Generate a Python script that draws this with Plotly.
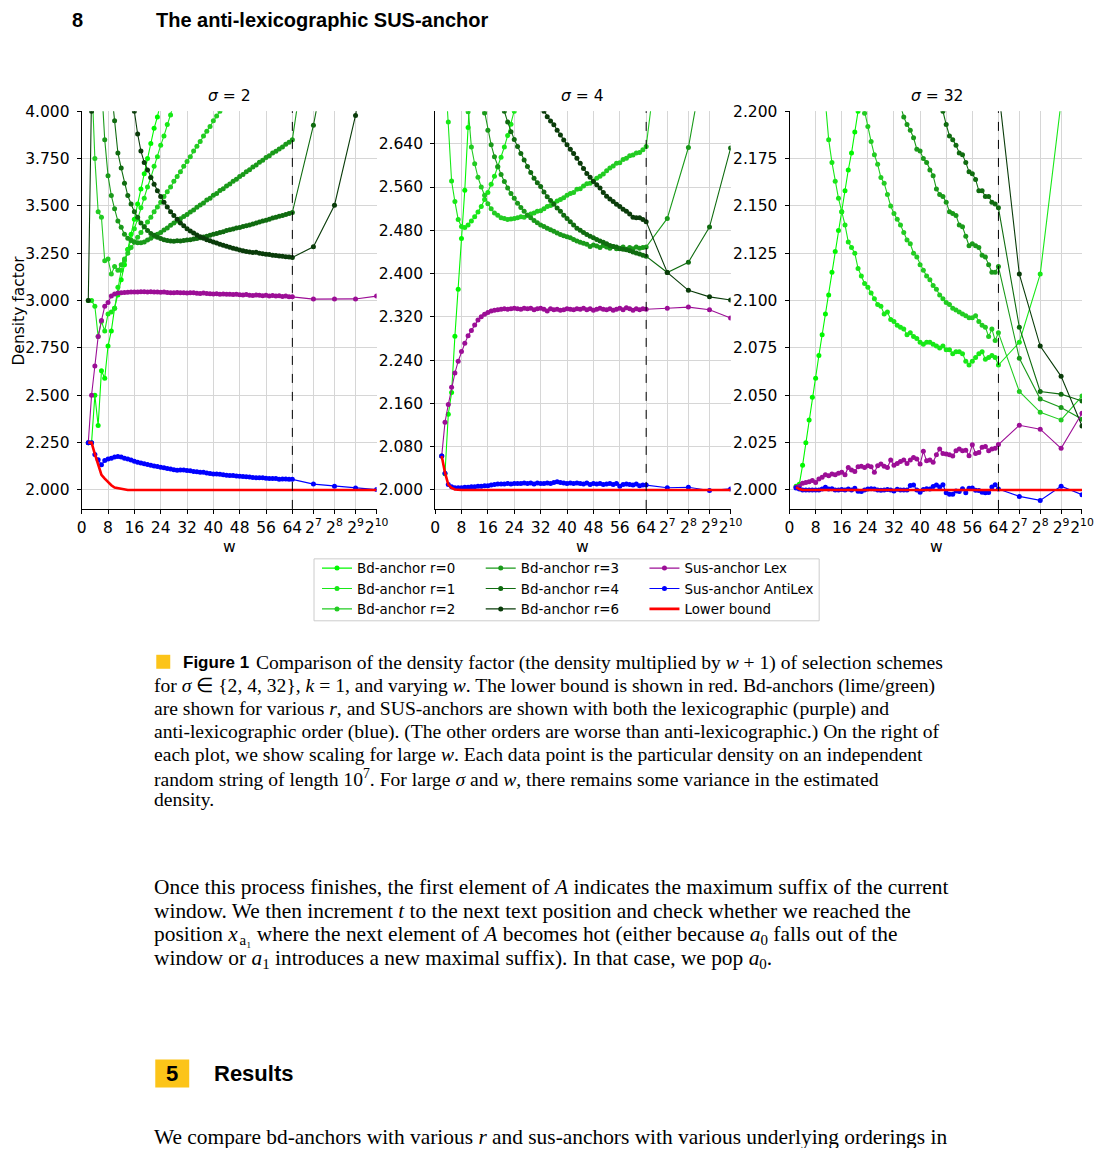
import math
import plotly.graph_objects as go

# Figure box used for layout; reference-pixel positions are mapped into it
# with a small correction that compensates for how the page is shown.
PAGE_OFF = 8
FIG_W, FIG_H = 1086, 1140
CAL_X0, CAL_XS = 3.6, 0.986
CAL_Y0, CAL_YS = 7.7, 0.993
N = None

# ---------------- data ----------------
W = list(range(2, 65)) + [128, 256, 512, 1024]
X_TICK_LIN = [0, 8, 16, 24, 32, 40, 48, 56, 64]
X_TICK_POW = [7, 8, 9, 10]

SERIES_NAMES = ["Bd-anchor r=0", "Bd-anchor r=1", "Bd-anchor r=2", "Bd-anchor r=3",
                "Bd-anchor r=4", "Bd-anchor r=6", "Sus-anchor Lex", "Sus-anchor AntiLex",
                "Lower bound"]
SERIES_COLORS = ["#00f800", "#18e818", "#22cc22", "#1a9a1a", "#106c10", "#0a3c0a",
                 "#9c0e96", "#0000ff", "#ff0000"]
SIGMAS = [2, 4, 32]

# ---- sigma = 2 ----
S2_R0 = [2.25, 2.25, 2.50, 2.34, 2.63, 2.59, 2.76, 2.84, 2.96, 3.03,
         3.11, 3.19, 3.27, 3.35, 3.43, 3.51, 3.59, 3.67, 3.75, 3.83,
         3.91, 3.97, 4.05, N, N, N, N, N, N, N,
         N, N, N, N, N, N, N, N, N, N,
         N, N, N, N, N, N, N, N, N, N,
         N, N, N, N, N, N, N, N, N, N,
         N, N, N,
         N, N, N, N]
S2_R1 = [3.00, 3.00, 2.97, 2.81, 2.89, 2.84, 2.93, 2.94, 2.96, 3.07,
         3.16, 3.21, 3.27, 3.32, 3.38, 3.43, 3.49, 3.54, 3.60, 3.65,
         3.71, 3.76, 3.82, 3.87, 3.93, 3.98, 4.04, N, N, N,
         N, N, N, N, N, N, N, N, N, N,
         N, N, N, N, N, N, N, N, N, N,
         N, N, N, N, N, N, N, N, N, N,
         N, N, N,
         N, N, N, N]
S2_R2 = [N, 4.20, 3.75, 3.47, 3.44, 3.21, 3.22, 3.14, 3.18, 3.16,
         3.19, 3.22, 3.25, 3.28, 3.31, 3.335, 3.36, 3.39, 3.415, 3.44,
         3.47, 3.495, 3.52, 3.55, 3.575, 3.60, 3.63, 3.655, 3.68, 3.71,
         3.735, 3.76, 3.79, 3.815, 3.84, 3.87, 3.895, 3.92, 3.95, 3.975,
         4.00, 4.03, N, N, N, N, N, N, N, N,
         N, N, N, N, N, N, N, N, N, N,
         N, N, N,
         N, N, N, N]
S2_R3 = [N, N, N, N, 4.15, 3.85, 3.66, 3.555, 3.485, 3.42,
         3.387, 3.35, 3.33, 3.317, 3.31, 3.305, 3.306, 3.31, 3.32, 3.33,
         3.34, 3.351, 3.36, 3.373, 3.384, 3.398, 3.41, 3.421, 3.432, 3.444,
         3.455, 3.468, 3.479, 3.493, 3.505, 3.516, 3.531, 3.541, 3.556, 3.566,
         3.581, 3.591, 3.606, 3.616, 3.631, 3.641, 3.656, 3.666, 3.681, 3.691,
         3.706, 3.716, 3.731, 3.741, 3.756, 3.765, 3.779, 3.789, 3.801, 3.811,
         3.826, 3.837, 3.85,
         4.6, N, N, N]
S2_R4 = [N, N, N, N, N, N, N, 4.12, 3.95, 3.78,
         3.70, 3.62, 3.555, 3.51, 3.47, 3.44, 3.41, 3.39, 3.37, 3.355,
         3.345, 3.335, 3.328, 3.322, 3.318, 3.315, 3.314, 3.316, 3.315, 3.318,
         3.32, 3.322, 3.325, 3.328, 3.332, 3.336, 3.34, 3.345, 3.35, 3.354,
         3.36, 3.364, 3.37, 3.374, 3.378, 3.383, 3.386, 3.391, 3.395, 3.40,
         3.405, 3.41, 3.415, 3.42, 3.425, 3.43, 3.436, 3.44, 3.445, 3.45,
         3.455, 3.46, 3.466,
         3.926, 4.5, N, N]
S2_R6 = [3.00, 4.00, 5.2, 5.0, 4.85, 4.75, 4.65, 4.55, 4.47, 4.40,
         4.32, 4.24, 4.17, 4.08, 4.00, 3.88, 3.79, 3.73, 3.69, 3.65,
         3.615, 3.58, 3.55, 3.52, 3.495, 3.47, 3.45, 3.43, 3.41, 3.395,
         3.38, 3.368, 3.357, 3.346, 3.337, 3.33, 3.322, 3.316, 3.31, 3.304,
         3.298, 3.292, 3.287, 3.282, 3.277, 3.273, 3.268, 3.264, 3.26, 3.257,
         3.254, 3.255, 3.25, 3.247, 3.245, 3.243, 3.24, 3.238, 3.236, 3.234,
         3.232, 3.23, 3.228,
         3.284, 3.504, 3.978, 4.6]
S2_LEX = [2.25, 2.50, 2.655, 2.81, 2.895, 2.97, 2.99, 3.025, 3.035, 3.04,
          3.042, 3.043, 3.044, 3.045, 3.046, 3.046, 3.047, 3.047, 3.046, 3.047,
          3.046, 3.045, 3.044, 3.045, 3.043, 3.042, 3.041, 3.043, 3.042, 3.041,
          3.04, 3.042, 3.041, 3.039, 3.038, 3.04, 3.037, 3.036, 3.035, 3.036,
          3.034, 3.035, 3.033, 3.034, 3.032, 3.033, 3.031, 3.03, 3.032, 3.029,
          3.027, 3.03, 3.028, 3.026, 3.029, 3.025, 3.027, 3.024, 3.026, 3.022,
          3.025, 3.021, 3.02,
          3.008, 3.008, 3.009, 3.024]
S2_ANTI = [2.25, 2.25, 2.187, 2.159, 2.133, 2.156, 2.163, 2.168, 2.174, 2.177,
           2.174, 2.168, 2.163, 2.158, 2.152, 2.147, 2.142, 2.138, 2.134, 2.131,
           2.127, 2.124, 2.12, 2.117, 2.114, 2.111, 2.107, 2.104, 2.106, 2.105,
           2.103, 2.101, 2.098, 2.096, 2.094, 2.093, 2.09, 2.087, 2.085, 2.085,
           2.083, 2.08, 2.078, 2.076, 2.077, 2.074, 2.072, 2.071, 2.07, 2.069,
           2.066, 2.065, 2.064, 2.064, 2.062, 2.061, 2.06, 2.06, 2.057, 2.058,
           2.058, 2.056, 2.056,
           2.031, 2.02, 2.01, 2.002]
S2_LB = [2.25, 2.25, 2.19, 2.14, 2.08, 2.06, 2.04, 2.025, 2.013, 2.01,
         2.004, 2.002, 2.0, 2.0, 2.0, 2.0, 2.0, 2.0, 2.0, 2.0,
         2.0, 2.0, 2.0, 2.0, 2.0, 2.0, 2.0, 2.0, 2.0, 2.0,
         2.0, 2.0, 2.0, 2.0, 2.0, 2.0, 2.0, 2.0, 2.0, 2.0,
         2.0, 2.0, 2.0, 2.0, 2.0, 2.0, 2.0, 2.0, 2.0, 2.0,
         2.0, 2.0, 2.0, 2.0, 2.0, 2.0, 2.0, 2.0, 2.0, 2.0,
         2.0, 2.0, 2.0,
         2.0, 2.0, 2.0, 2.0]

# ---- sigma = 4 ----
S4_R0 = [2.063, 2.03, 2.14, 2.18, 2.284, 2.371, 2.465, 2.554, 2.67, 2.78,
         N, N, N, N, N, N, N, N, N, N,
         N, N, N, N, N, N, N, N, N, N,
         N, N, N, N, N, N, N, N, N, N,
         N, N, N, N, N, N, N, N, N, N,
         N, N, N, N, N, N, N, N, N, N,
         N, N, N,
         N, N, N, N]
S4_R1 = [N, 2.78, 2.68, 2.571, 2.533, 2.50, 2.487, 2.485, 2.49, 2.497,
         2.505, 2.514, 2.524, 2.537, 2.55, 2.565, 2.58, 2.597, 2.615, 2.634,
         2.655, 2.676, 2.70, 2.724, N, N, N, N, N, N,
         N, N, N, N, N, N, N, N, N, N,
         N, N, N, N, N, N, N, N, N, N,
         N, N, N, N, N, N, N, N, N, N,
         N, N, N,
         N, N, N, N]
S4_R2 = [N, N, N, N, N, N, N, 2.78, 2.699, 2.634,
         2.603, 2.578, 2.56, 2.545, 2.529, 2.52, 2.512, 2.508, 2.503, 2.502,
         2.50, 2.501, 2.502, 2.503, 2.505, 2.504, 2.508, 2.51, 2.512, 2.515,
         2.516, 2.52, 2.524, 2.526, 2.53, 2.534, 2.537, 2.54, 2.545, 2.548,
         2.55, 2.556, 2.557, 2.562, 2.566, 2.567, 2.571, 2.576, 2.58, 2.584,
         2.59, 2.595, 2.599, 2.604, 2.605, 2.611, 2.613, 2.618, 2.619, 2.623,
         2.624, 2.629, 2.635,
         2.95, N, N, N]
S4_R3 = [N, N, N, N, N, N, N, N, N, N,
         N, N, 2.73, 2.697, 2.665, 2.638, 2.616, 2.598, 2.583, 2.57,
         2.558, 2.548, 2.539, 2.53, 2.522, 2.515, 2.508, 2.503, 2.498, 2.494,
         2.49, 2.487, 2.484, 2.481, 2.478, 2.475, 2.472, 2.47, 2.468, 2.466,
         2.463, 2.46, 2.458, 2.456, 2.454, 2.45, 2.453, 2.451, 2.448, 2.452,
         2.449, 2.447, 2.45, 2.446, 2.447, 2.449, 2.445, 2.448, 2.446, 2.449,
         2.447, 2.448, 2.449,
         2.502, 2.633, 2.85, N]
S4_R4 = [N, N, N, N, N, N, N, N, N, N,
         N, N, N, N, N, N, N, N, 2.715, 2.70,
         2.68, 2.662, 2.648, 2.635, 2.622, 2.61, 2.598, 2.587, 2.576, 2.568,
         2.561, 2.551, 2.542, 2.535, 2.528, 2.521, 2.515, 2.508, 2.502, 2.496,
         2.49, 2.484, 2.48, 2.476, 2.472, 2.469, 2.466, 2.463, 2.46, 2.458,
         2.455, 2.452, 2.45, 2.449, 2.446, 2.445, 2.444, 2.442, 2.44, 2.438,
         2.436, 2.434, 2.432,
         2.402, 2.421, 2.486, 2.632]
S4_R6 = [N, N, N, N, N, N, N, N, N, N,
         N, N, N, N, N, N, N, N, N, N,
         N, N, N, N, N, N, N, N, N, N,
         2.71, 2.70, 2.69, 2.682, 2.675, 2.665, 2.656, 2.647, 2.638, 2.63,
         2.622, 2.613, 2.604, 2.594, 2.585, 2.578, 2.57, 2.564, 2.558, 2.55,
         2.543, 2.538, 2.533, 2.528, 2.524, 2.519, 2.515, 2.51, 2.504, 2.503,
         2.503, 2.50, 2.496,
         2.402, 2.369, 2.357, 2.351]
S4_LEX = [2.063, 2.125, 2.158, 2.19, 2.216, 2.238, 2.256, 2.271, 2.285, 2.295,
          2.305, 2.314, 2.32, 2.325, 2.328, 2.331, 2.332, 2.333, 2.334, 2.335,
          2.334, 2.335, 2.336, 2.335, 2.334, 2.336, 2.335, 2.336, 2.333, 2.335,
          2.336, 2.334, 2.331, 2.335, 2.333, 2.334, 2.332, 2.333, 2.335, 2.334,
          2.333, 2.335, 2.334, 2.336, 2.333, 2.335, 2.332, 2.334, 2.336, 2.334,
          2.333, 2.335, 2.332, 2.334, 2.336, 2.333, 2.337, 2.335, 2.332, 2.335,
          2.333, 2.335, 2.334,
          2.336, 2.338, 2.333, 2.318]
S4_ANTI = [2.063, 2.031, 2.01, 2.006, 2.004, 2.004, 2.004, 2.005, 2.005, 2.006,
           2.006, 2.007, 2.007, 2.008, 2.008, 2.009, 2.010, 2.011, 2.011, 2.011,
           2.012, 2.011, 2.012, 2.012, 2.012, 2.013, 2.012, 2.013, 2.011, 2.013,
           2.012, 2.012, 2.013, 2.012, 2.014, 2.015, 2.014, 2.013, 2.012, 2.013,
           2.012, 2.013, 2.012, 2.011, 2.013, 2.01, 2.012, 2.011, 2.012, 2.01,
           2.011, 2.012, 2.01, 2.012, 2.007, 2.01, 2.011, 2.01, 2.009, 2.011,
           2.008, 2.009, 2.009,
           2.004, 2.005, 1.999, 2.002]
S4_LB = [2.063, 2.032, 2.01, 2.004, 2.001, 2.0, 2.0, 2.0, 2.0, 2.0,
         2.0, 2.0, 2.0, 2.0, 2.0, 2.0, 2.0, 2.0, 2.0, 2.0,
         2.0, 2.0, 2.0, 2.0, 2.0, 2.0, 2.0, 2.0, 2.0, 2.0,
         2.0, 2.0, 2.0, 2.0, 2.0, 2.0, 2.0, 2.0, 2.0, 2.0,
         2.0, 2.0, 2.0, 2.0, 2.0, 2.0, 2.0, 2.0, 2.0, 2.0,
         2.0, 2.0, 2.0, 2.0, 2.0, 2.0, 2.0, 2.0, 2.0, 2.0,
         2.0, 2.0, 2.0,
         2.0, 2.0, 2.0, 2.0]

# ---- sigma = 32 ----
S32_R0 = [2.002, 2.003, 2.013, 2.025, 2.037, 2.049, 2.059, 2.071, 2.082, 2.093,
          2.103, 2.115, 2.126, 2.137, 2.147, 2.158, 2.169, 2.178, 2.189, 2.20,
          2.211, N, N, N, N, N, N, N, N, N,
          N, N, N, N, N, N, N, N, N, N,
          N, N, N, N, N, N, N, N, N, N,
          N, N, N, N, N, N, N, N, N, N,
          N, N, N,
          N, N, N, N]
S32_R1 = [N, N, N, N, N, N, N, N, 2.225, 2.203,
          2.185, 2.173, 2.163, 2.154, 2.147, 2.14, 2.131, 2.128, 2.125, 2.117,
          2.113, 2.109, 2.107, 2.104, 2.101, 2.098, 2.097, 2.093, 2.094, 2.09,
          2.089, 2.087, 2.086, 2.085, 2.082, 2.083, 2.081, 2.08, 2.078, 2.077,
          2.078, 2.078, 2.077, 2.076, 2.075, 2.076, 2.074, 2.074, 2.072, 2.073,
          2.073, 2.072, 2.068, 2.066, 2.068, 2.07, 2.072, 2.073, 2.069, 2.07,
          2.071, 2.07, 2.066,
          2.078, 2.114, 2.205, N]
S32_R2 = [N, N, N, N, N, N, N, N, N, N,
          N, N, N, N, N, N, N, N, N, N,
          2.208, 2.199, 2.192, 2.184, 2.177, 2.172, 2.165, 2.162, 2.156, 2.15,
          2.146, 2.143, 2.14, 2.136, 2.132, 2.13, 2.125, 2.123, 2.119, 2.116,
          2.113, 2.111, 2.108, 2.106, 2.103, 2.101, 2.099, 2.098, 2.096, 2.095,
          2.094, 2.093, 2.092, 2.091, 2.091, 2.092, 2.089, 2.087, 2.086, 2.081,
          2.085, 2.079, 2.083,
          2.052, 2.041, 2.037, 2.0496]
S32_R3 = [N, N, N, N, N, N, N, N, N, N,
          N, N, N, N, N, N, N, N, N, N,
          N, N, N, N, N, N, N, N, N, N,
          N, N, 2.203, 2.197, 2.193, 2.19, 2.186, 2.18, 2.179, 2.175,
          2.173, 2.169, 2.166, 2.159, 2.156, 2.155, 2.152, 2.147, 2.146, 2.145,
          2.14, 2.139, 2.134, 2.129, 2.13, 2.129, 2.128, 2.124, 2.123, 2.119,
          2.115, 2.115, 2.118,
          2.0696, 2.048, 2.0436, 2.0374]
S32_R4 = [N, N, N, N, N, N, N, N, N, N,
          N, N, N, N, N, N, N, N, N, N,
          N, N, N, N, N, N, N, N, N, N,
          N, N, N, N, N, N, N, N, N, N,
          N, N, N, N, 2.205, 2.2, 2.193, 2.187, 2.185, 2.182,
          2.178, 2.177, 2.173, 2.168, 2.167, 2.164, 2.158, 2.158, 2.155, 2.155,
          2.152, 2.151, 2.149,
          2.086, 2.052, 2.0506, 2.047]
S32_R6 = [N, N, N, N, N, N, N, N, N, N,
          N, N, N, N, N, N, N, N, N, N,
          N, N, N, N, N, N, N, N, N, N,
          N, N, N, N, N, N, N, N, N, N,
          N, N, N, N, N, N, N, N, N, N,
          N, N, N, N, N, N, N, N, 2.235, 2.228,
          2.222, 2.218, 2.212,
          2.114, 2.076, 2.060, 2.0338]
S32_LEX = [2.0014, 2.002, 2.0035, 2.004, 2.0044, 2.005, 2.004, 2.0058, 2.0067, 2.008,
           2.0075, 2.0084, 2.008, 2.0088, 2.0093, 2.008, 2.0119, 2.0105, 2.0098, 2.0123,
           2.0125, 2.0119, 2.0128, 2.0123, 2.0093, 2.0128, 2.0137, 2.0125, 2.0119, 2.0158,
           2.0131, 2.014, 2.015, 2.0158, 2.014, 2.0158, 2.0172, 2.0163, 2.0137, 2.0204,
           2.0154, 2.0158, 2.0147, 2.0186, 2.0216, 2.0193, 2.019, 2.0186, 2.0179, 2.0207,
           2.0216, 2.0207, 2.021, 2.0181, 2.0239, 2.0193, 2.0198, 2.0225, 2.023, 2.0207,
           2.0216, 2.022, 2.024,
           2.0342, 2.0321, 2.022, 2.0405]
S32_ANTI = [2.001, 2.0005, 2.0, 2.0, 2.0, 2.0, 2.0, 2.0, 2.0005, 2.0014,
            2.0005, 2.0007, 2.0, 2.0, 2.0003, 2.0, 2.0005, 2.0, 2.0009, 1.9993,
            1.9992, 2.0, 2.0005, 2.0007, 2.0005, 2.0, 1.9998, 2.0, 2.0003, 2.0,
            1.9995, 2.0004, 2.0, 2.0, 2.0, 2.0023, 2.0026, 2.0, 1.9988, 2.0003,
            2.0006, 2.0005, 2.0018, 2.0026, 2.0016, 2.0028, 1.9985, 1.9978, 1.9978, 1.9995,
            1.9992, 2.0006, 1.9985, 2.0009, 2.001, 1.9998, 1.9997, 1.9988, 1.9986, 1.9987,
            2.0016, 2.0028, 2.0005,
            1.9966, 1.9945, 2.002, 1.9975]
S32_LB = [2.0015, 2.0005, 2.0, 2.0, 2.0, 2.0, 2.0, 2.0, 2.0, 2.0,
          2.0, 2.0, 2.0, 2.0, 2.0, 2.0, 2.0, 2.0, 2.0, 2.0,
          2.0, 2.0, 2.0, 2.0, 2.0, 2.0, 2.0, 2.0, 2.0, 2.0,
          2.0, 2.0, 2.0, 2.0, 2.0, 2.0, 2.0, 2.0, 2.0, 2.0,
          2.0, 2.0, 2.0, 2.0, 2.0, 2.0, 2.0, 2.0, 2.0, 2.0,
          2.0, 2.0, 2.0, 2.0, 2.0, 2.0, 2.0, 2.0, 2.0, 2.0,
          2.0, 2.0, 2.0,
          2.0, 2.0, 2.0, 2.0]

Y_TICKS_2 = [2.0, 2.25, 2.5, 2.75, 3.0, 3.25, 3.5, 3.75, 4.0]
Y_TICKS_4 = [2.0, 2.08, 2.16, 2.24, 2.32, 2.40, 2.48, 2.56, 2.64]
Y_TICKS_32 = [2.0, 2.025, 2.05, 2.075, 2.1, 2.125, 2.15, 2.175, 2.2]
Y_RANGES = [[1.9, 4.0], [1.965, 2.7], [1.99, 2.2]]

PANEL_SERIES = [
    [S2_R0, S2_R1, S2_R2, S2_R3, S2_R4, S2_R6, S2_LEX, S2_ANTI, S2_LB],
    [S4_R0, S4_R1, S4_R2, S4_R3, S4_R4, S4_R6, S4_LEX, S4_ANTI, S4_LB],
    [S32_R0, S32_R1, S32_R2, S32_R3, S32_R4, S32_R6, S32_LEX, S32_ANTI, S32_LB],
]
PANEL_YTICKS = [Y_TICKS_2, Y_TICKS_4, Y_TICKS_32]

CAPTION_LINES = [
    "Comparison of the density factor (the density multiplied by <i>w</i> + 1) of selection schemes",
    "for <i>σ</i> ∈ {2, 4, 32}, <i>k</i> = 1, and varying <i>w</i>. The lower bound is shown in red. Bd-anchors (lime/green)",
    "are shown for various <i>r</i>, and SUS-anchors are shown with both the lexicographic (purple) and",
    "anti-lexicographic order (blue). (The other orders are worse than anti-lexicographic.) On the right of",
    "each plot, we show scaling for large <i>w</i>. Each data point is the particular density on an independent",
    "random string of length 10<sup>7</sup>. For large <i>σ</i> and <i>w</i>, there remains some variance in the estimated",
    "density.",
]
PARA_LINES = [
    "Once this process finishes, the first element of <i>A</i> indicates the maximum suffix of the current",
    "window. We then increment <i>t</i> to the next text position and check whether we reached the",
    "position <i>x</i>\u200a<sub>a₁</sub> where the next element of <i>A</i> becomes hot (either because <i>a</i><sub>0</sub> falls out of the",
    "window or <i>a</i><sub>1</sub> introduces a new maximal suffix). In that case, we pop <i>a</i><sub>0</sub>.",
]
LAST_LINE = "We compare bd-anchors with various <i>r</i> and sus-anchors with various underlying orderings in"

# ---------------- helpers ----------------
for panel in PANEL_SERIES:
    for s in panel:
        assert len(s) == len(W), len(s)


def xpos(w):
    return w if w <= 64 else 64 + 6.4 * math.log2(w / 64)


X = [xpos(w) for w in W]
X_TICK_VALS = [xpos(v) for v in X_TICK_LIN] + [xpos(2 ** p) for p in X_TICK_POW]
X_TICK_TEXT = [str(v) for v in X_TICK_LIN] + ["2<sup>%d</sup>" % p for p in X_TICK_POW]


def px(x):
    """target window pixel x -> paper coordinate"""
    xi = (x - CAL_X0) / CAL_XS
    return (xi - PAGE_OFF) / FIG_W


def py(y):
    """target window pixel y -> paper coordinate"""
    yi = (y - CAL_Y0) / CAL_YS
    return 1 - (yi - PAGE_OFF) / FIG_H


def clamp01(v):
    return max(0.0, min(1.0, v))


CHART_FONT = "DejaVu Sans"
SERIF = "Liberation Serif"
SANS = "Liberation Sans"

X_DOM_PX = [(80.3, 375.7), (434.3, 730.3), (789.3, 1084.3)]
Y_DOM_PX = (110, 508)

fig = go.Figure()
LEGEND_OF = ["legend", "legend", "legend", "legend2", "legend2", "legend2",
             "legend3", "legend3", "legend3"]

for pi in range(3):
    sfx = "" if pi == 0 else str(pi + 1)
    for si, vals in enumerate(PANEL_SERIES[pi]):
        is_lb = SERIES_NAMES[si] == "Lower bound"
        fig.add_trace(go.Scatter(
            x=X, y=vals, name=SERIES_NAMES[si],
            mode="lines" if is_lb else "lines+markers",
            line=dict(color=SERIES_COLORS[si], width=2.6 if is_lb else 1.1),
            marker=dict(size=5, color=SERIES_COLORS[si], line=dict(width=0)),
            xaxis="x" + sfx, yaxis="y" + sfx,
            showlegend=(pi == 0), legend=LEGEND_OF[si],
            connectgaps=False, hoverinfo="skip",
        ))

layout = dict(
    width=FIG_W, height=FIG_H, autosize=False,
    margin=dict(l=0, r=0, t=0, b=0, pad=0),
    paper_bgcolor="white", plot_bgcolor="white",
    font=dict(family=CHART_FONT, color="black"),
)
for pi in range(3):
    sfx = "" if pi == 0 else str(pi + 1)
    x0, x1 = X_DOM_PX[pi]
    layout["xaxis" + sfx] = dict(
        domain=[clamp01(px(x0)), clamp01(px(x1))], range=[0, xpos(1024)], anchor="y" + sfx,
        tickmode="array", tickvals=X_TICK_VALS, ticktext=X_TICK_TEXT, tickangle=0,
        showgrid=True, gridcolor="#d6d6d6", gridwidth=1, zeroline=False,
        showline=True, linecolor="black", linewidth=1,
        ticks="outside", ticklen=4, tickwidth=1, tickcolor="black",
        tickfont=dict(family=CHART_FONT, size=15.5, color="black"),
    )
    layout["yaxis" + sfx] = dict(
        domain=[clamp01(py(Y_DOM_PX[1])), clamp01(py(Y_DOM_PX[0]))], range=Y_RANGES[pi],
        anchor="x" + sfx,
        tickmode="array", tickvals=PANEL_YTICKS[pi], tickformat=".3f", tickangle=0,
        ticklabelstandoff=4,
        showgrid=True, gridcolor="#d6d6d6", gridwidth=1, zeroline=False,
        showline=True, linecolor="black", linewidth=1,
        ticks="outside", ticklen=4, tickwidth=1, tickcolor="black",
        tickfont=dict(family=CHART_FONT, size=15.5, color="black"),
    )

leg_common = dict(xanchor="left", yanchor="top", bgcolor="rgba(0,0,0,0)", borderwidth=0,
                  font=dict(family=CHART_FONT, size=13.4, color="black"),
                  itemwidth=30, tracegroupgap=0, orientation="v")
layout["legend"] = dict(x=px(316), y=py(552), **leg_common)
layout["legend2"] = dict(x=px(480), y=py(552), **leg_common)
layout["legend3"] = dict(x=px(644), y=py(552), **leg_common)

shapes = []
for pi in range(3):
    sfx = "" if pi == 0 else str(pi + 1)
    shapes.append(dict(type="line", xref="x" + sfx, yref="y" + sfx + " domain",
                       x0=64, x1=64, y0=0, y1=1, layer="above",
                       line=dict(color="black", width=1, dash="dash")))
# legend frame
shapes.append(dict(type="rect", xref="paper", yref="paper", x0=px(313), x1=px(819),
                   y0=py(620), y1=py(558), line=dict(color="#cccccc", width=1)))
# yellow marks
shapes.append(dict(type="rect", xref="paper", yref="paper", x0=px(155), x1=px(169),
                   y0=py(668), y1=py(654), line=dict(width=0), fillcolor="#fcc419"))
shapes.append(dict(type="rect", xref="paper", yref="paper", x0=px(154), x1=px(188),
                   y0=py(1087), y1=py(1059), line=dict(width=0), fillcolor="#fcc419"))
layout["shapes"] = shapes

ann = []


def add_text(x, y, text, size, family, xanchor="left", angle=0, bold=False):
    t = "<b>%s</b>" % text if bold else text
    ann.append(dict(x=px(x), y=py(y), xref="paper", yref="paper", text=t, showarrow=False,
                    xanchor=xanchor, yanchor="middle", textangle=angle,
                    font=dict(family=family, size=size, color="black")))


for pi, sg in enumerate(SIGMAS):
    x0, x1 = X_DOM_PX[pi]
    add_text((x0 + x1) / 2, 95, "<i>σ</i> = %d" % sg, 15.5, CHART_FONT, xanchor="center")
    add_text((x0 + x1) / 2, 546, "w", 15.5, CHART_FONT, xanchor="center")
add_text(18, 310, "Density factor", 15.5, CHART_FONT, xanchor="center", angle=-90)

add_text(69, 19, "8", 20, SANS, bold=True)
add_text(153, 19, "The anti-lexicographic SUS-anchor", 20, SANS, bold=True)

add_text(180, 662, "Figure 1", 17, SANS, bold=True)
cap_y = [662, 685, 708, 731, 754, 777, 799]
for i, line in enumerate(CAPTION_LINES):
    add_text(253 if i == 0 else 151, cap_y[i], line, 19.6, SERIF)

para_y = [886, 910, 934, 958]
for i, line in enumerate(PARA_LINES):
    add_text(151, para_y[i], line, 21.4, SERIF)

add_text(171, 1073, "5", 22, SANS, xanchor="center", bold=True)
add_text(211, 1073, "Results", 22, SANS, bold=True)
add_text(151, 1137, LAST_LINE, 21.4, SERIF)

layout["annotations"] = ann
fig.update_layout(**layout)

fig.write_html("out.html", config={"displayModeBar": False})
